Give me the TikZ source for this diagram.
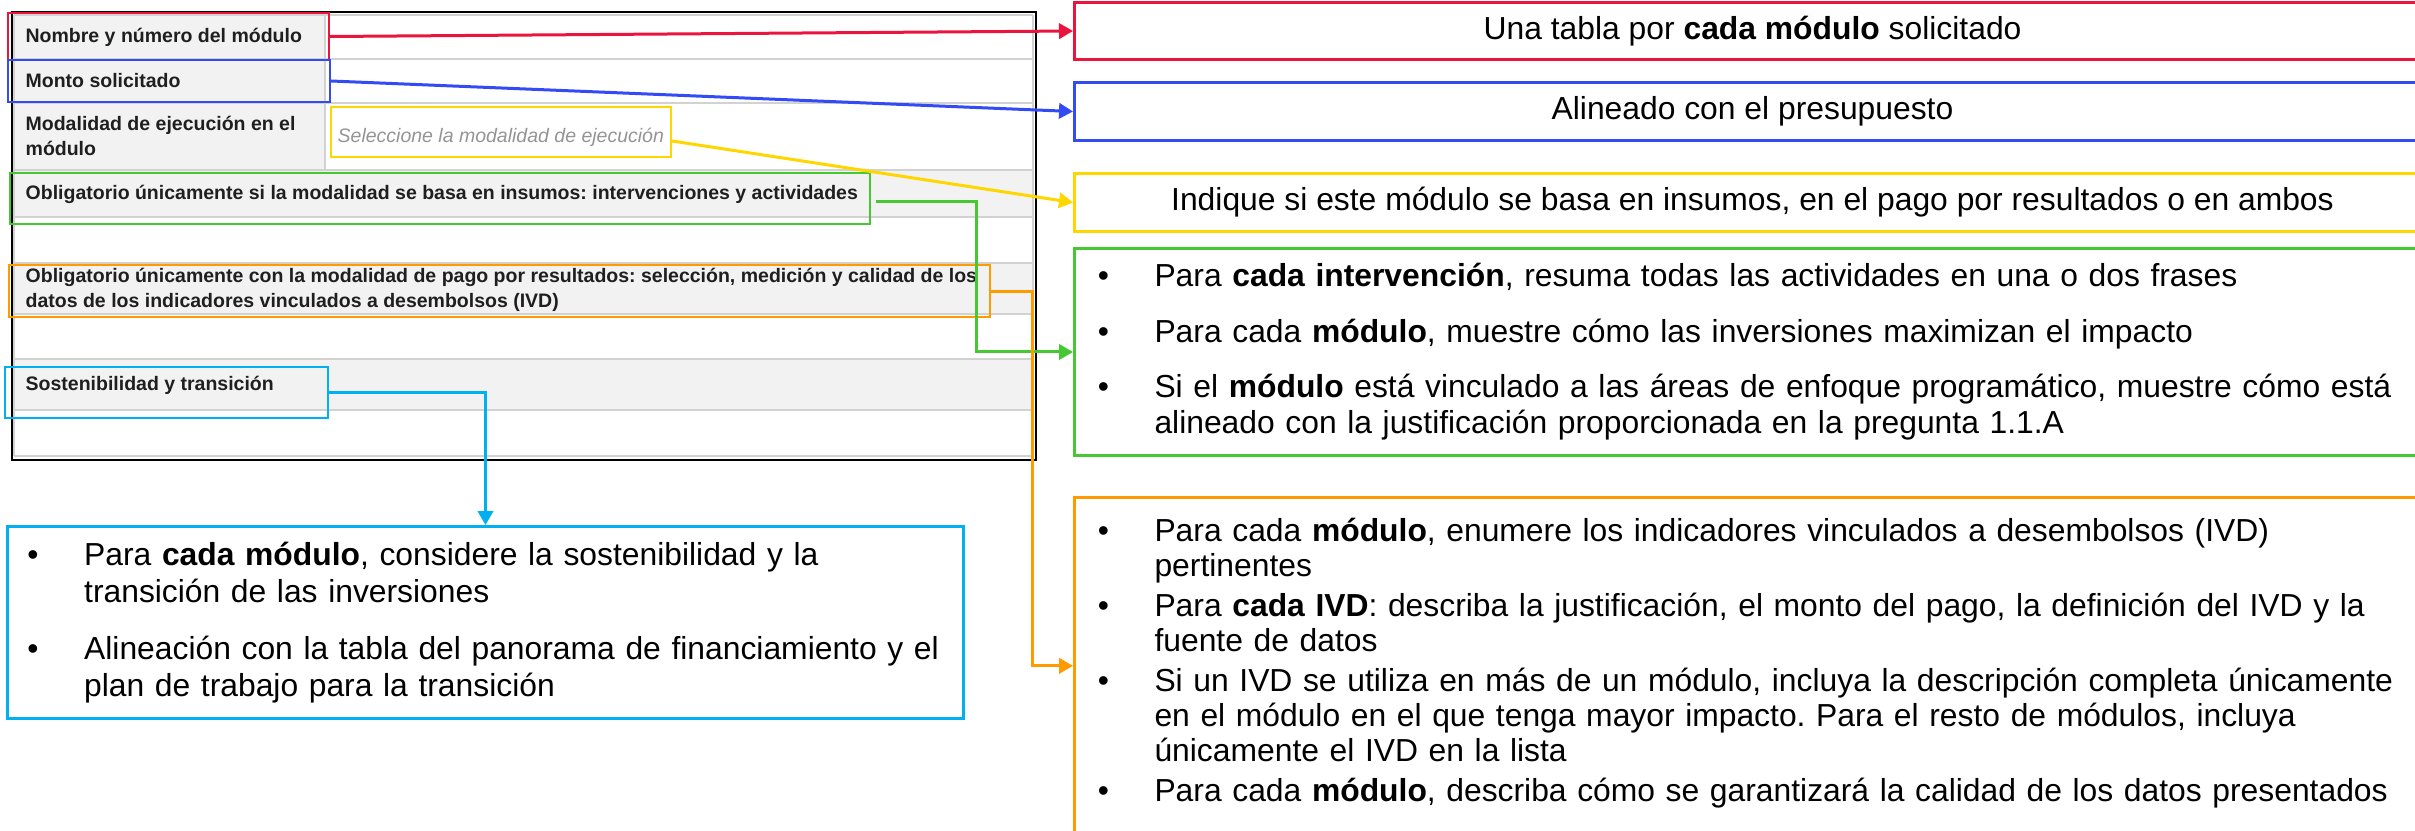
\documentclass[tikz,border=0pt]{standalone}
\usepackage{fontspec}
\setmainfont{Liberation Sans}
\frenchspacing
\usetikzlibrary{positioning,calc,arrows.meta}

\definecolor{hlred}{RGB}{235,20,60}
\definecolor{hlblue}{RGB}{50,75,245}
\definecolor{hlyellow}{RGB}{255,215,0}
\definecolor{hlgreen}{RGB}{70,200,50}
\definecolor{hlorange}{RGB}{255,155,0}
\definecolor{hlcyan}{RGB}{0,176,240}
\definecolor{rowgray}{RGB}{242,242,242}
\definecolor{linegray}{RGB}{210,210,210}

\newcommand{\bpt}[1]{\noindent\hangindent=17pt\hangafter=1\makebox[17pt][l]{\textbullet}#1\par}

\tikzstyle{cell} = [anchor=west, inner sep=0pt, align=left, text=black!88, font=\fontsize{5.85}{7.6}\selectfont\bfseries]
\tikzstyle{hl} = [rectangle, draw, line width=0.6pt, inner sep=0pt, anchor=north west]
\tikzstyle{callout} = [rectangle, draw, line width=0.9pt, minimum width=406.8pt, minimum height=17.4pt, text centered, font=\fontsize{9.55}{11.5}\selectfont]
\tikzstyle{bullets} = [rectangle, draw, line width=0.9pt, inner xsep=7pt, align=left, font=\fontsize{9.55}{10.9}\selectfont]
\tikzstyle{arrow} = [draw, line width=0.9pt, -{Triangle[length=4.2pt,width=4.6pt]}]

\begin{document}
\begin{tikzpicture}[x=0.3pt, y=-0.3pt]
    \useasboundingbox (0,0) rectangle (2415,831);

    % formulario
    \fill[rowgray] (14,15) rectangle (325,170);
    \fill[rowgray] (14,170) rectangle (1033,217);
    \fill[rowgray] (14,263) rectangle (1033,314);
    \fill[rowgray] (14,359) rectangle (1033,410);
    \foreach \y in {15,59,103,170,217,263,314,359,410,456}
        \draw[linegray, line width=0.5pt] (14,\y) -- (1033,\y);
    \draw[linegray, line width=0.5pt] (14,15) -- (14,456) (1033,15) -- (1033,456) (325,15) -- (325,170);
    \draw[black, line width=0.6pt] (12,12) rectangle (1036,460);

    \node (nombre) [cell] at (25,37) {Nombre y número del módulo};
    \node (monto) [cell] at (25,81) {Monto solicitado};
    \node (modal) [cell] at (25,136) {Modalidad de ejecución en el\\módulo};
    \node (selec) [cell, font=\fontsize{5.85}{7.6}\selectfont\itshape, text=black!42] at (337,137) {Seleccione la modalidad de ejecución};
    \node (insumos) [cell] at (25,194) {Obligatorio únicamente si la modalidad se basa en insumos: intervenciones y actividades};
    \node (pago) [cell] at (25,290) {Obligatorio únicamente con la modalidad de pago por resultados: selección, medición y calidad de los\\datos de los indicadores vinculados a desembolsos (IVD)};
    \node (sosten) [cell] at (25,385) {Sostenibilidad y transición};

    % marcos de color
    \node (hnombre) [hl, draw=hlred, minimum width=96.3pt, minimum height=14.1pt] at (7,12) {};
    \node (hmonto) [hl, draw=hlblue, minimum width=96.6pt, minimum height=12.6pt] at (7,59) {};
    \node (hselec) [hl, draw=hlyellow, minimum width=102pt, minimum height=15pt] at (330,106) {};
    \node (hinsumos) [hl, draw=hlgreen, minimum width=258pt, minimum height=15.3pt] at (9,172) {};
    \node (hpago) [hl, draw=hlorange, minimum width=294.3pt, minimum height=15.6pt] at (8,264) {};
    \node (hsosten) [hl, draw=hlcyan, minimum width=96.9pt, minimum height=15.3pt] at (4,366) {};

    % notas
    \node (tabla) [callout, draw=hlred, anchor=north west, minimum height=17.1pt] at (1073,1) {Una tabla por \textbf{cada módulo} solicitado};
    \node (presup) [callout, draw=hlblue, below=6pt of tabla] {Alineado con el presupuesto};
    \node (ambos) [callout, draw=hlyellow, below=9pt of presup] {Indique si este módulo se basa en insumos, en el pago por resultados o en ambos};
    \node (interv) [bullets, draw=hlgreen, below=4.2pt of ambos.south west, anchor=north west, text width=400pt, minimum height=62.1pt,
        execute at begin node=\setlength{\parskip}{5.7pt}] {%
        \bpt{Para \textbf{cada intervención}, resuma todas las actividades en una o dos frases}
        \bpt{Para cada \textbf{módulo}, muestre cómo las inversiones maximizan el impacto}
        \bpt{Si el \textbf{módulo} está vinculado a las áreas de enfoque programático, muestre cómo está\newline alineado con la justificación proporcionada en la pregunta 1.1.A}};
    \node (ivd) [bullets, draw=hlorange, below=11.7pt of interv.south west, anchor=north west, text width=400pt, minimum height=107pt,
        text depth=87.5pt, font=\fontsize{9.55}{10.5}\selectfont, execute at begin node=\setlength{\parskip}{1.5pt}] {%
        \bpt{Para cada \textbf{módulo}, enumere los indicadores vinculados a desembolsos (IVD)\newline pertinentes}
        \bpt{Para \textbf{cada IVD}: describa la justificación, el monto del pago, la definición del IVD y la\newline fuente de datos}
        \bpt{Si un IVD se utiliza en más de un módulo, incluya la descripción completa únicamente\newline en el módulo en el que tenga mayor impacto. Para el resto de módulos, incluya\newline únicamente el IVD en la lista}
        \bpt{Para cada \textbf{módulo}, describa cómo se garantizará la calidad de los datos presentados}};
    \node (transic) [bullets, draw=hlcyan, anchor=north west, text width=274.8pt, inner xsep=6pt, minimum height=57.6pt,
        font=\fontsize{9.55}{11.1}\selectfont, execute at begin node=\setlength{\parskip}{6pt}] at (6,525) {%
        \bpt{Para \textbf{cada módulo}, considere la sostenibilidad y la\newline transición de las inversiones}
        \bpt{Alineación con la tabla del panorama de financiamiento y el\newline plan de trabajo para la transición}};

    \draw [arrow, hlred] (hnombre.east) -- (tabla.west);
    \draw [arrow, hlblue] (hmonto.east) -- (presup.west);
    \draw [arrow, hlyellow] ($(hselec.east)+(0,9)$) -- (ambos.west);
    \draw [arrow, hlgreen] ($(hinsumos.east)+(5,3)$) -- ++(100,0) |- (interv.west);
    \draw [arrow, hlorange] (hpago.east) -- ++(41,0) |- ([yshift=3pt]ivd.west);
    \draw [arrow, hlcyan] (hsosten.east) -| (transic.north);

\end{tikzpicture}
\end{document}
